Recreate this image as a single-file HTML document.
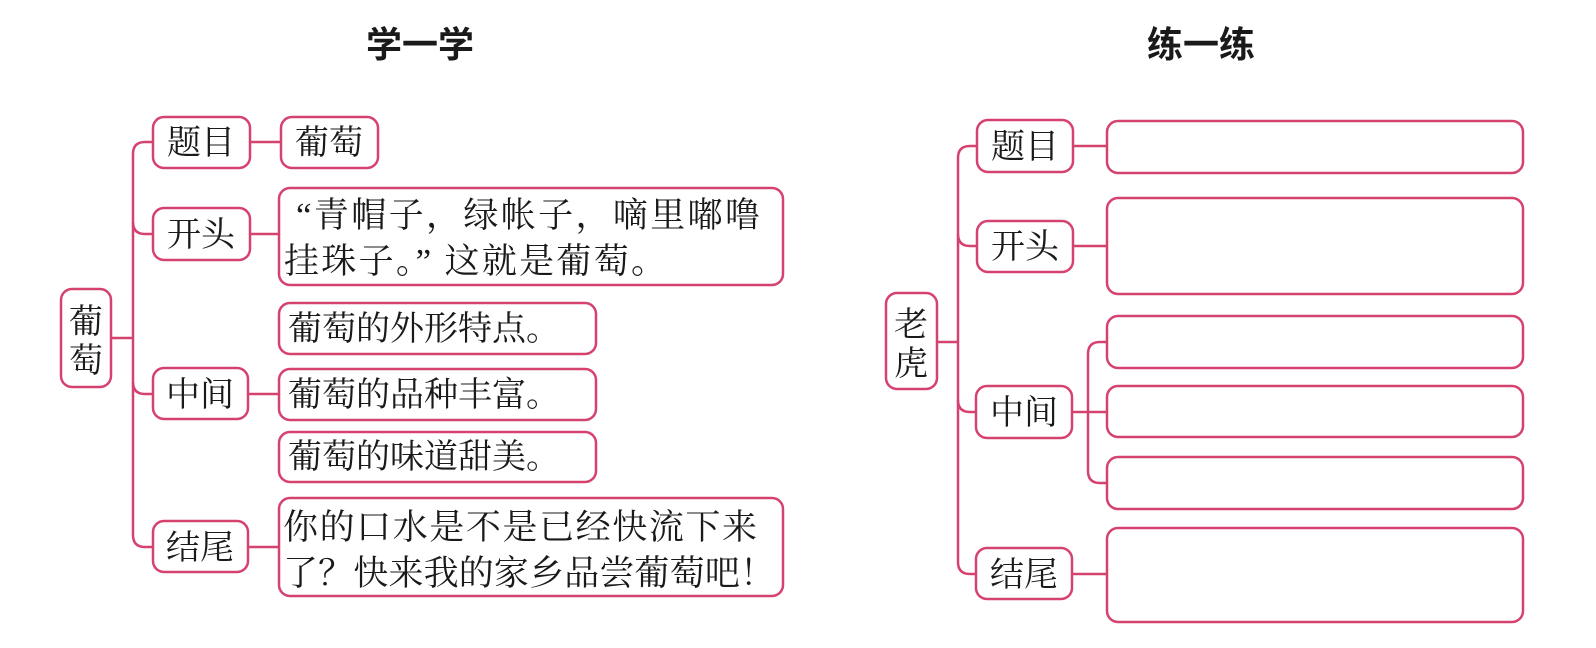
<!DOCTYPE html>
<html><head><meta charset="utf-8"><style>
html,body{margin:0;padding:0;background:#fff;}
body{width:1596px;height:648px;overflow:hidden;position:relative;}
svg{position:absolute;left:0;top:0;}
.t{font-family:"Liberation Serif","Noto Serif CJK SC",serif;fill:#1a1a1a;}
.h{font-family:"Liberation Sans","Noto Sans CJK SC",sans-serif;font-weight:bold;fill:#1a1a1a;}
</style></head><body>
<svg width="1596" height="648" viewBox="0 0 1596 648">
<g fill="none" stroke="#d6426f" stroke-width="2.5">
<rect x="61" y="289" width="50" height="98" rx="11"/>
<path d="M111,338 H133"/>
<path d="M153,142 H145 Q133,142 133,154 V535 Q133,547 145,547 H153"/>
<path d="M133,222 Q133,234 145,234 H153"/>
<path d="M133,382 Q133,394 145,394 H153"/>
<rect x="153" y="117" width="97" height="51" rx="11"/>
<path d="M250,142 H281"/>
<rect x="281" y="117" width="97" height="51" rx="11"/>
<rect x="153" y="208" width="97" height="52" rx="11"/>
<path d="M250,234 H279"/>
<rect x="279" y="188" width="504" height="97" rx="11"/>
<rect x="153" y="368" width="95" height="51" rx="11"/>
<path d="M248,394 H279"/>
<rect x="279" y="303" width="317" height="51" rx="11"/>
<rect x="279" y="369" width="317" height="51" rx="11"/>
<rect x="279" y="432" width="317" height="50" rx="11"/>
<rect x="153" y="521" width="95" height="51" rx="11"/>
<path d="M248,547 H279"/>
<rect x="279" y="498" width="504" height="98" rx="11"/>
<rect x="886" y="293" width="51" height="96" rx="11"/>
<path d="M937,342 H958"/>
<path d="M977,146 H970 Q958,146 958,158 V562 Q958,574 970,574 H977"/>
<path d="M958,234 Q958,246 970,246 H977"/>
<path d="M958,400 Q958,412 970,412 H976"/>
<rect x="977" y="120" width="96" height="52" rx="11"/>
<path d="M1073,146 H1107"/>
<rect x="1107" y="121" width="416" height="52" rx="11"/>
<rect x="977" y="221" width="96" height="51" rx="11"/>
<path d="M1073,246 H1107"/>
<rect x="1107" y="198" width="416" height="96" rx="11"/>
<rect x="976" y="386" width="96" height="52" rx="11"/>
<path d="M1072,412 H1107"/>
<path d="M1107,342 H1100 Q1088,342 1088,354 V471 Q1088,483 1100,483 H1107"/>
<rect x="1107" y="316" width="416" height="52" rx="11"/>
<rect x="1107" y="386" width="416" height="51" rx="11"/>
<rect x="1107" y="457" width="416" height="52" rx="11"/>
<rect x="976" y="548" width="96" height="51" rx="11"/>
<path d="M1072,574 H1107"/>
<rect x="1107" y="528" width="416" height="94" rx="11"/>
</g>
<text class="h" x="420" y="57" font-size="36" text-anchor="middle">学一学</text>
<text class="h" x="1201" y="57" font-size="36" text-anchor="middle">练一练</text>
<g class="t" font-size="34">
<text x="86" y="333" text-anchor="middle">葡</text>
<text x="86" y="372" text-anchor="middle">萄</text>
<text x="201" y="154" text-anchor="middle">题目</text>
<text x="329" y="154" text-anchor="middle">葡萄</text>
<text x="201" y="246" text-anchor="middle">开头</text>
<text x="200" y="406" text-anchor="middle">中间</text>
<text x="200" y="559" text-anchor="middle">结尾</text>
<text x="288" y="340">葡萄的外形特点。</text>
<text x="288" y="406">葡萄的品种丰富。</text>
<text x="288" y="468">葡萄的味道甜美。</text>
</g>
<g class="t" font-size="35">
<text x="296" y="227" textLength="464" lengthAdjust="spacing">“青帽子，绿帐子，嘀里嘟噜</text>
<text x="284" y="273" textLength="382" lengthAdjust="spacing">挂珠子。” 这就是葡萄。</text>
<text x="283" y="539" textLength="474" lengthAdjust="spacing">你的口水是不是已经快流下来</text>
<text x="283" y="585" textLength="492" lengthAdjust="spacing">了？快来我的家乡品尝葡萄吧！</text>
</g>
<g class="t" font-size="34">
<text x="911" y="336" text-anchor="middle">老</text>
<text x="911" y="375" text-anchor="middle">虎</text>
<text x="1025" y="158" text-anchor="middle">题目</text>
<text x="1025" y="258" text-anchor="middle">开头</text>
<text x="1024" y="424" text-anchor="middle">中间</text>
<text x="1024" y="586" text-anchor="middle">结尾</text>
</g>
</svg>
</body></html>
